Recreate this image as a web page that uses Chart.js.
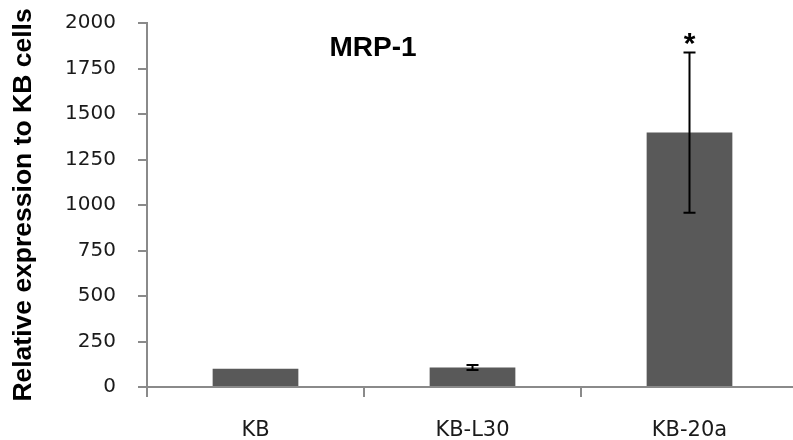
<!DOCTYPE html>
<html>
<head>
<meta charset="utf-8">
<script src="https://cdn.jsdelivr.net/npm/chart.js@4/dist/chart.umd.min.js"></script>
<style>
  html, body { margin: 0; padding: 0; background: #ffffff; overflow: hidden; }
  #wrap { width: 798px; height: 440px; }
</style>
</head>
<body>
<div id="wrap"><canvas id="c" width="798" height="440"></canvas></div>
<script>
// ---- data ----
const categories = ['KB', 'KB-L30', 'KB-20a'];
const expression = [100, 107, 1398];
const errorSD = [0, 14, 440];
const significance = ['', '', '*'];
const yTicks = [0, 250, 500, 750, 1000, 1250, 1500, 1750, 2000];
const chartTitle = 'MRP-1';
const yTitle = 'Relative expression to KB cells';

const axisColor = '#8a8a8a';
const barColor = '#595959';
const textColor = '#1a1a1a';

const errorBarPlugin = {
  id: 'errorBars',
  afterDatasetsDraw(chart) {
    const ctx = chart.ctx;
    const yS = chart.scales.y;
    const meta = chart.getDatasetMeta(0);
    ctx.save();
    ctx.strokeStyle = '#000000';
    ctx.lineWidth = 2;
    meta.data.forEach((bar, i) => {
      const e = errorSD[i];
      const v = expression[i];
      const cx = bar.x;
      const yHi = yS.getPixelForValue(v + e);
      const yLo = yS.getPixelForValue(v - e);
      if (e > 0) {
        ctx.beginPath();
        ctx.moveTo(cx, yHi); ctx.lineTo(cx, yLo);
        ctx.moveTo(cx - 6, yHi); ctx.lineTo(cx + 6, yHi);
        ctx.moveTo(cx - 6, yLo); ctx.lineTo(cx + 6, yLo);
        ctx.stroke();
      }
      if (significance[i]) {
        ctx.fillStyle = '#000000';
        ctx.font = 'bold 30px "Liberation Sans", Arial, sans-serif';
        ctx.textAlign = 'center';
        ctx.textBaseline = 'alphabetic';
        ctx.fillText(significance[i], cx, yHi + 1);
      }
    });
    // chart title inside the plot area
    const area = chart.chartArea;
    ctx.fillStyle = '#000000';
    ctx.font = 'bold 28px "Liberation Sans", Arial, sans-serif';
    ctx.textAlign = 'center';
    ctx.textBaseline = 'middle';
    ctx.fillText(chartTitle, area.left + 226, area.top + 25);
    ctx.restore();
  }
};

new Chart(document.getElementById('c'), {
  type: 'bar',
  data: {
    labels: categories,
    datasets: [{
      data: expression,
      backgroundColor: barColor,
      borderWidth: 0,
      barPercentage: 0.395,
      categoryPercentage: 1.0
    }]
  },
  options: {
    responsive: false,
    animation: false,
    layout: { padding: { top: 23, right: 0, bottom: 0, left: 0 } },
    plugins: {
      legend: { display: false },
      tooltip: { enabled: false },
      title: { display: false }
    },
    scales: {
      x: {
        type: 'category',
        offset: true,
        grid: {
          offset: true,
          drawOnChartArea: false,
          drawTicks: true,
          tickLength: 10,
          color: axisColor,
          lineWidth: 2
        },
        border: { display: true, color: axisColor, width: 2 },
        ticks: {
          color: textColor,
          padding: 21,
          font: { family: '"DejaVu Sans", sans-serif', size: 21 }
        },
        afterFit(scale) {
          scale.height = 53;
          scale.paddingLeft = 0;
          scale.paddingRight = 0;
        }
      },
      y: {
        min: 0,
        max: 2000,
        afterBuildTicks(scale) { scale.ticks = yTicks.map(v => ({ value: v })); },
        grid: {
          drawOnChartArea: false,
          drawTicks: true,
          tickLength: 9,
          color: axisColor,
          lineWidth: 2
        },
        border: { display: true, color: axisColor, width: 2 },
        ticks: {
          color: textColor,
          padding: 22,
          callback: (v) => String(v),
          font: { family: '"DejaVu Sans", sans-serif', size: 20 }
        },
        title: {
          display: true,
          text: yTitle,
          color: '#000000',
          padding: { top: 8, bottom: 0 },
          font: { family: '"Liberation Sans", Arial, sans-serif', size: 26.5, weight: 'bold' }
        },
        afterFit(scale) {
          scale.width = 147;
          scale.paddingTop = 0;
          scale.paddingBottom = 0;
        }
      }
    }
  },
  plugins: [errorBarPlugin]
});
</script>
</body>
</html>
